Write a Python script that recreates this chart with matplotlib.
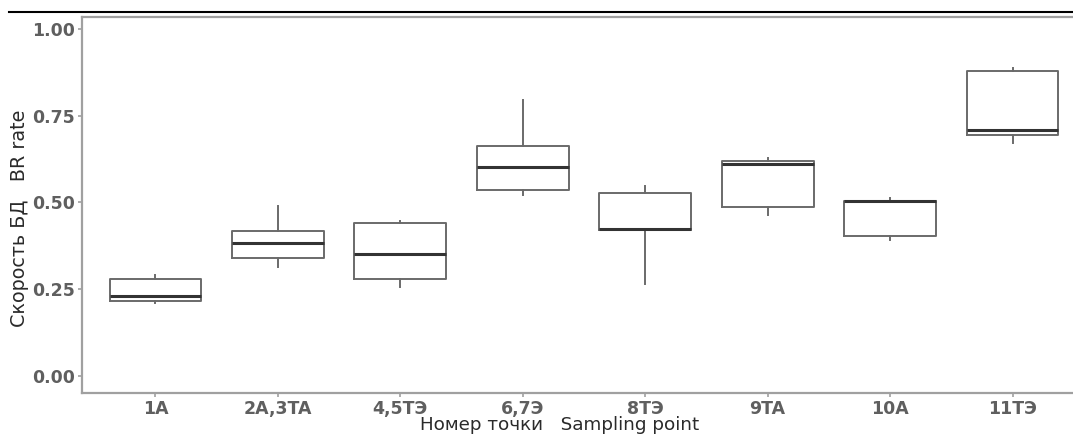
import matplotlib
matplotlib.use("Agg")
import matplotlib.pyplot as plt
from matplotlib.lines import Line2D

categories = ["1A", "2A,3TA", "4,5TЭ", "6,7Э", "8TЭ", "9TA", "10A", "11TЭ"]
whisker_low = [0.209, 0.313, 0.256, 0.520, 0.265, 0.464, 0.392, 0.672]
q1          = [0.216, 0.339, 0.278, 0.535, 0.420, 0.488, 0.404, 0.694]
median      = [0.231, 0.382, 0.352, 0.603, 0.422, 0.610, 0.503, 0.709]
q3          = [0.279, 0.417, 0.440, 0.662, 0.526, 0.620, 0.505, 0.880]
whisker_high = [0.291, 0.491, 0.445, 0.795, 0.546, 0.627, 0.514, 0.888]
yticks = [0.00, 0.25, 0.50, 0.75, 1.00]
ytick_labels = ["0.00", "0.25", "0.50", "0.75", "1.00"]

W, H = 1073, 441
fig = plt.figure(figsize=(W / 100, H / 100), dpi=100)
left_px, right_px, top_px, bottom_px = 82, 1086, 17, 393
ax = fig.add_axes([left_px / W, (H - bottom_px) / H,
                   (right_px - left_px) / W, (bottom_px - top_px) / H])

stats = []
for i, c in enumerate(categories):
    stats.append(dict(label=c, whislo=whisker_low[i], q1=q1[i], med=median[i],
                      q3=q3[i], whishi=whisker_high[i], fliers=[]))

box_color = "#6a6a6a"
ax.bxp(stats, positions=range(1, len(categories) + 1), widths=0.75,
       showcaps=False, showfliers=False, patch_artist=False,
       boxprops=dict(color=box_color, linewidth=1.4),
       whiskerprops=dict(color=box_color, linewidth=1.4),
       medianprops=dict(color="#333333", linewidth=2.2))

ax.set_xlim(0.4, 8.6)
ax.set_ylim(-0.05, 1.035)
ax.set_yticks(yticks)
ax.set_yticklabels(ytick_labels)
ax.set_xticks(range(1, len(categories) + 1))
ax.set_xticklabels(categories)

spine_color = "#a0a0a0"
for s in ["left", "bottom", "top"]:
    ax.spines[s].set_color(spine_color)
    ax.spines[s].set_linewidth(1.6)
ax.spines["right"].set_visible(False)

ax.tick_params(axis="both", colors=spine_color, length=3, width=1.2,
               labelcolor="#5f5f5f", labelsize=12.5, pad=2)
for lab in ax.get_xticklabels() + ax.get_yticklabels():
    lab.set_fontweight("bold")
    lab.set_family("DejaVu Sans")

fig.text(560 / W, 1 - 425 / H, "Номер точки   Sampling point",
         ha="center", va="center", fontsize=13.2, color="#2a2a2a",
         family="DejaVu Sans")
fig.text(20 / W, 1 - 218 / H, "Скорость БД   BR rate", rotation=90,
         ha="center", va="center", fontsize=13.8, color="#2a2a2a",
         family="DejaVu Sans")

fig.add_artist(Line2D([9 / W, 1.0], [1 - 11.5 / H, 1 - 11.5 / H],
                      transform=fig.transFigure, color="black", linewidth=1.5))

fig.savefig("out.png", dpi=100)
